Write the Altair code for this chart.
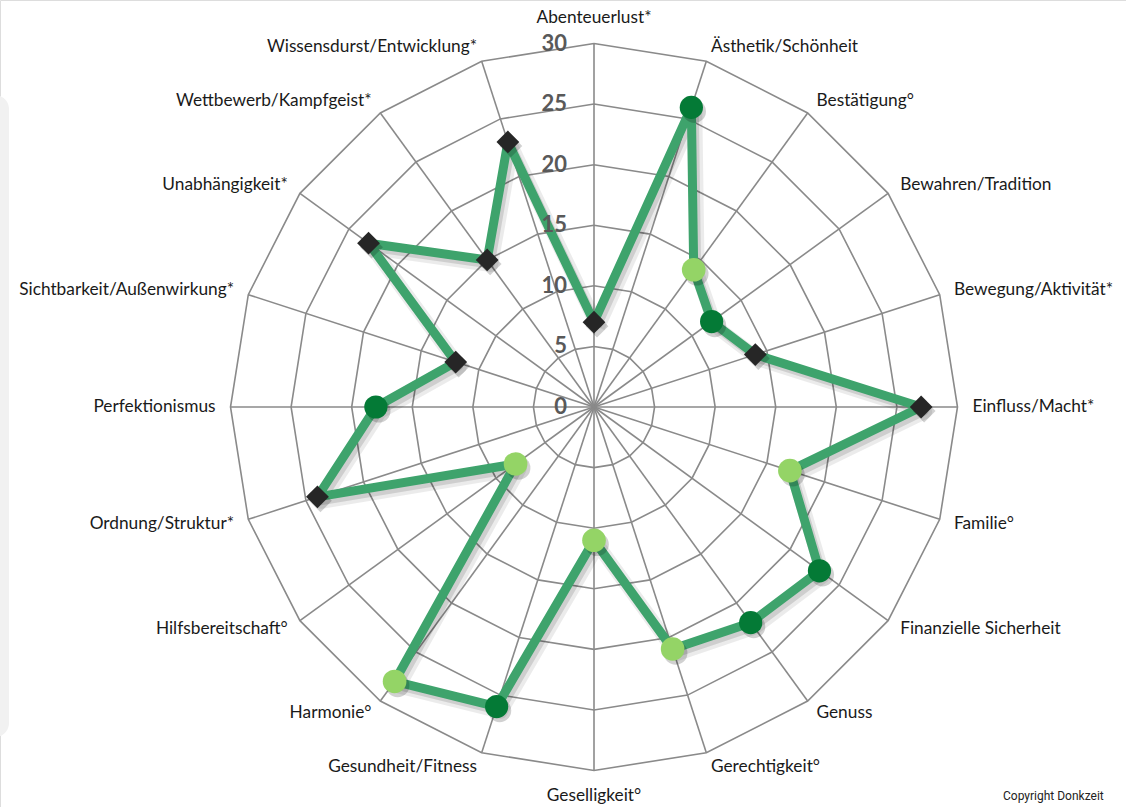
import math
import altair as alt
import pandas as pd

# ---------------- data ----------------
categories = [
    "Abenteuerlust*", "Ästhetik/Schönheit", "Bestätigung°", "Bewahren/Tradition",
    "Bewegung/Aktivität*", "Einfluss/Macht*", "Familie°", "Finanzielle Sicherheit",
    "Genuss", "Gerechtigkeit°", "Geselligkeit°", "Gesundheit/Fitness", "Harmonie°",
    "Hilfsbereitschaft°", "Ordnung/Struktur*", "Perfektionismus",
    "Sichtbarkeit/Außenwirkung*", "Unabhängigkeit*", "Wettbewerb/Kampfgeist*",
    "Wissensdurst/Entwicklung*",
]
values = [7, 26, 14, 12, 14, 27, 17, 23, 22, 21, 11, 26, 28, 8, 24, 18, 12, 23, 15, 23]
marker_group = [
    "diamond", "dark", "light", "dark", "diamond", "diamond", "light", "dark",
    "dark", "light", "light", "dark", "light", "light", "diamond", "dark",
    "diamond", "diamond", "diamond", "diamond",
]
tick_values = [0, 5, 10, 15, 20, 25, 30]
ring_values = [5, 10, 15, 20, 25, 30]
max_value = 30

# ---------------- layout ----------------
W, H = 1126, 807
CX, CY = 594, 407
R_PX = 363.5
k = max_value / R_PX  # value units per pixel
x_dom = [-CX * k, (W - CX) * k]
y_dom = [-(H - CY) * k, CY * k]
xs = alt.Scale(domain=x_dom, nice=False, zero=False)
ys = alt.Scale(domain=y_dom, nice=False, zero=False)

n = len(categories)
ang = [2 * math.pi * i / n for i in range(n)]

# grid rings
ring_rows = []
for r in ring_values:
    for j in range(n + 1):
        a = ang[j % n]
        ring_rows.append({"ring": r, "o": j, "x": r * math.sin(a), "y": r * math.cos(a)})
rings = pd.DataFrame(ring_rows)

# spokes
spokes = pd.DataFrame({
    "x": [0.0] * n, "y": [0.0] * n,
    "x2": [max_value * math.sin(a) for a in ang],
    "y2": [max_value * math.cos(a) for a in ang],
})

# data points
pts = pd.DataFrame({
    "cat": categories, "v": values, "grp": marker_group,
    "x": [v * math.sin(a) for v, a in zip(values, ang)],
    "y": [v * math.cos(a) for v, a in zip(values, ang)],
    "o": list(range(n)),
})
line_df = pd.concat([pts, pts.iloc[[0]].assign(o=n)], ignore_index=True)

# category labels
lab_r = max_value + 15 * k
lab_rows = []
for c, a in zip(categories, ang):
    s = math.sin(a)
    if abs(s) < 1e-6:
        side = "top" if math.cos(a) > 0 else "bottom"
    else:
        side = "right" if s > 0 else "left"
    lab_rows.append({"cat": c, "side": side, "x": lab_r * s, "y": lab_r * math.cos(a)})
labels = pd.DataFrame(lab_rows)

ticks = pd.DataFrame({"t": tick_values, "x": [-27 * k] * len(tick_values), "y": tick_values})

X = lambda f="x": alt.X(f"{f}:Q", scale=xs, axis=None)
Y = lambda f="y": alt.Y(f"{f}:Q", scale=ys, axis=None)

GRID = "#8a8a8a"
LINE = "#3ea36c"

ring_layer = alt.Chart(rings).mark_line(color=GRID, strokeWidth=1.6).encode(
    x=X(), y=Y(), detail="ring:N", order="o:Q")
spoke_layer = alt.Chart(spokes).mark_rule(color=GRID, strokeWidth=1.6).encode(
    x=X(), y=Y(), x2="x2:Q", y2="y2:Q")

shadow1 = alt.Chart(line_df).mark_line(color="#000000", opacity=0.08, strokeWidth=14,
                                       strokeJoin="round", xOffset=4, yOffset=5).encode(
    x=X(), y=Y(), order="o:Q")
shadow2 = alt.Chart(line_df).mark_line(color="#000000", opacity=0.12, strokeWidth=9,
                                       strokeJoin="round", xOffset=3, yOffset=4).encode(
    x=X(), y=Y(), order="o:Q")
data_line = alt.Chart(line_df).mark_line(color=LINE, strokeWidth=9, strokeJoin="round").encode(
    x=X(), y=Y(), order="o:Q")

shape_scale = alt.Scale(domain=["diamond", "dark", "light"], range=["diamond", "circle", "circle"])
color_scale = alt.Scale(domain=["diamond", "dark", "light"], range=["#262626", "#047a36", "#94d466"])
size_scale = alt.Scale(domain=["diamond", "dark", "light"], range=[520, 560, 560])

mk_shadow = alt.Chart(pts).mark_point(filled=True, opacity=0.18, color="#000000",
                                      xOffset=3, yOffset=4).encode(
    x=X(), y=Y(),
    shape=alt.Shape("grp:N", scale=shape_scale, legend=None),
    size=alt.Size("grp:N", scale=size_scale, legend=None))
markers = alt.Chart(pts).mark_point(filled=True, opacity=1, strokeWidth=0).encode(
    x=X(), y=Y(),
    shape=alt.Shape("grp:N", scale=shape_scale, legend=None),
    color=alt.Color("grp:N", scale=color_scale, legend=None),
    size=alt.Size("grp:N", scale=size_scale, legend=None))

FONT = "Lato"
FS = 17.3
TXT = "#1a1a1a"
lab_base = alt.Chart(labels)
lab_right = lab_base.transform_filter(alt.datum.side == "right").mark_text(
    align="left", baseline="middle", font=FONT, fontSize=FS, color=TXT).encode(
    x=X(), y=Y(), text="cat:N")
lab_left = lab_base.transform_filter(alt.datum.side == "left").mark_text(
    align="right", baseline="middle", font=FONT, fontSize=FS, color=TXT).encode(
    x=X(), y=Y(), text="cat:N")
lab_top = lab_base.transform_filter(alt.datum.side == "top").mark_text(
    align="center", baseline="bottom", dy=-2, font=FONT, fontSize=FS, color=TXT).encode(
    x=X(), y=Y(), text="cat:N")
lab_bottom = lab_base.transform_filter(alt.datum.side == "bottom").mark_text(
    align="center", baseline="top", dy=1, font=FONT, fontSize=FS, color=TXT).encode(
    x=X(), y=Y(), text="cat:N")

tick_layer = alt.Chart(ticks).mark_text(align="right", baseline="middle", font=FONT,
                                        fontSize=22, fontWeight="bold", color="#595959").encode(
    x=X(), y=Y(), text="t:Q")

panel = alt.Chart(pd.DataFrame({"a": [0]})).mark_rect(color="#f1f1f1", cornerRadius=14).encode(
    x=alt.value(-30), x2=alt.value(9), y=alt.value(95), y2=alt.value(737))

copyright_txt = alt.Chart(pd.DataFrame({"t": ["Copyright Donkzeit"]})).mark_text(
    align="left", baseline="top", font="Roboto", fontSize=12, color="#222222").encode(
    x=alt.value(1003), y=alt.value(791), text="t:N")

chart = alt.layer(
    panel, ring_layer, spoke_layer, shadow1, shadow2, data_line, mk_shadow, markers,
    lab_right, lab_left, lab_top, lab_bottom, tick_layer, copyright_txt,
).properties(
    width=W, height=H, autosize=alt.AutoSizeParams(type="none"), padding=0,
).configure_view(stroke=None).configure(background="white")

chart.save("out.html", embed_options={"renderer": "svg", "actions": False})
